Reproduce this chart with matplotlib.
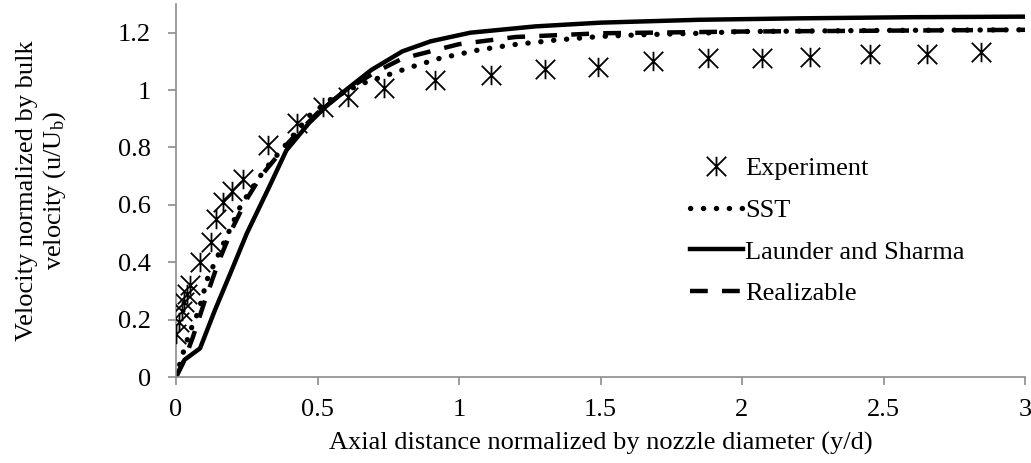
import matplotlib
matplotlib.use("Agg")
import matplotlib.pyplot as plt
from matplotlib.path import Path
from matplotlib.ticker import FuncFormatter

# Data
exp_x = [0.0, 0.01, 0.02, 0.03, 0.04, 0.05, 0.085, 0.125, 0.14, 0.167, 0.197, 0.238,
         0.326, 0.426, 0.52, 0.608, 0.736, 0.915, 1.112, 1.304, 1.492, 1.687, 1.881,
         2.07, 2.24, 2.452, 2.653, 2.845]
exp_y = [0.15, 0.19, 0.23, 0.26, 0.29, 0.32, 0.40, 0.47, 0.55, 0.61, 0.65, 0.69,
         0.81, 0.885, 0.94, 0.975, 1.007, 1.036, 1.053, 1.073, 1.079, 1.10, 1.111,
         1.111, 1.117, 1.125, 1.125, 1.132]

sst_x = [0, 0.03, 0.05, 0.08, 0.11, 0.17, 0.23, 0.29, 0.32, 0.38, 0.47, 0.55, 0.65,
         0.74, 0.83, 0.93, 1.07, 1.19, 1.35, 1.5, 1.65, 1.85, 2.0, 2.5, 3.0]
sst_y = [0, 0.10, 0.16, 0.23, 0.34, 0.47, 0.60, 0.69, 0.73, 0.80, 0.91, 0.97, 1.02,
         1.05, 1.08, 1.11, 1.14, 1.158, 1.175, 1.187, 1.193, 1.198, 1.204, 1.208, 1.21]

ls_x = [0, 0.03, 0.085, 0.138, 0.197, 0.25, 0.33, 0.39, 0.47, 0.53, 0.6, 0.69, 0.8,
        0.9, 1.04, 1.27, 1.5, 1.85, 2.2, 2.6, 3.0]
ls_y = [0, 0.06, 0.10, 0.234, 0.373, 0.50, 0.664, 0.79, 0.885, 0.943, 1.0, 1.07,
        1.135, 1.17, 1.2, 1.222, 1.235, 1.245, 1.25, 1.254, 1.256]

rz_x = [0, 0.03, 0.06, 0.1, 0.15, 0.2, 0.25, 0.3, 0.4, 0.5, 0.6, 0.7, 0.8, 1.0,
        1.2, 1.5, 2.0, 2.5, 3.0]
rz_y = [0, 0.06, 0.14, 0.26, 0.40, 0.52, 0.62, 0.70, 0.82, 0.92, 1.0, 1.06, 1.11,
        1.16, 1.185, 1.198, 1.204, 1.207, 1.21]

xticks = [0, 0.5, 1, 1.5, 2, 2.5, 3]
yticks = [0, 0.2, 0.4, 0.6, 0.8, 1.0, 1.2]

FS = 19

plt.rcParams['font.family'] = ['Liberation Serif', 'DejaVu Serif']
plt.rcParams['mathtext.fontset'] = 'custom'
plt.rcParams['mathtext.rm'] = 'Liberation Serif'
plt.rcParams['mathtext.it'] = 'Liberation Serif'

fig = plt.figure(figsize=(10.31, 4.63), dpi=100)
ax = fig.add_axes([176/1031, 1-377/463, (1025-176)/1031, (377-4)/463])

# asterisk marker: X plus vertical line
star = Path([(-0.5, -0.5), (0.5, 0.5), (-0.5, 0.5), (0.5, -0.5), (0, -0.5), (0, 0.5)],
            [Path.MOVETO, Path.LINETO, Path.MOVETO, Path.LINETO, Path.MOVETO, Path.LINETO])

ax.plot(exp_x, exp_y, linestyle='none', marker=star, markersize=14,
        markeredgewidth=1.3, color='black', label='Experiment', zorder=3)
ax.plot(sst_x, sst_y, linestyle=(0, (0.05, 2.4)), linewidth=3.8, color='black',
        dash_capstyle='round', label='SST')
ax.plot(ls_x, ls_y, linestyle='-', linewidth=3.2, color='black', label='Launder and Sharma')
ax.plot(rz_x, rz_y, linestyle=(0, (4, 3.2)), linewidth=3.2, color='black',
        label='Realizable')

ax.set_xlim(0, 3)
ax.set_ylim(0, 1.3)
ax.set_xticks(xticks)
ax.set_yticks(yticks)
fmt = FuncFormatter(lambda v, p: ('%g' % v))
ax.xaxis.set_major_formatter(fmt)
ax.yaxis.set_major_formatter(fmt)

for s in ['top', 'right']:
    ax.spines[s].set_visible(False)
for s in ['left', 'bottom']:
    ax.spines[s].set_color('#8c8c8c')
    ax.spines[s].set_linewidth(1.2)
ax.tick_params(axis='both', direction='out', length=6, width=1.2, color='#8c8c8c',
               labelsize=FS, labelcolor='black')
ax.tick_params(axis='x', pad=10)
ax.tick_params(axis='y', pad=12)

ax.set_xlabel('Axial distance normalized by nozzle diameter (y/d)', fontsize=FS, labelpad=8)
ax.set_ylabel('Velocity normalized by bulk\nvelocity (u/U$_\\mathrm{b}$)', fontsize=FS,
              labelpad=36, linespacing=1.15)

leg = ax.legend(loc='center left', bbox_to_anchor=(690/1031, 1-231/463),
                bbox_transform=fig.transFigure, frameon=False, fontsize=FS,
                handlelength=2.0, handletextpad=0.1, labelspacing=0.69,
                borderaxespad=0, borderpad=0)

fig.savefig('out.png', dpi=100)
